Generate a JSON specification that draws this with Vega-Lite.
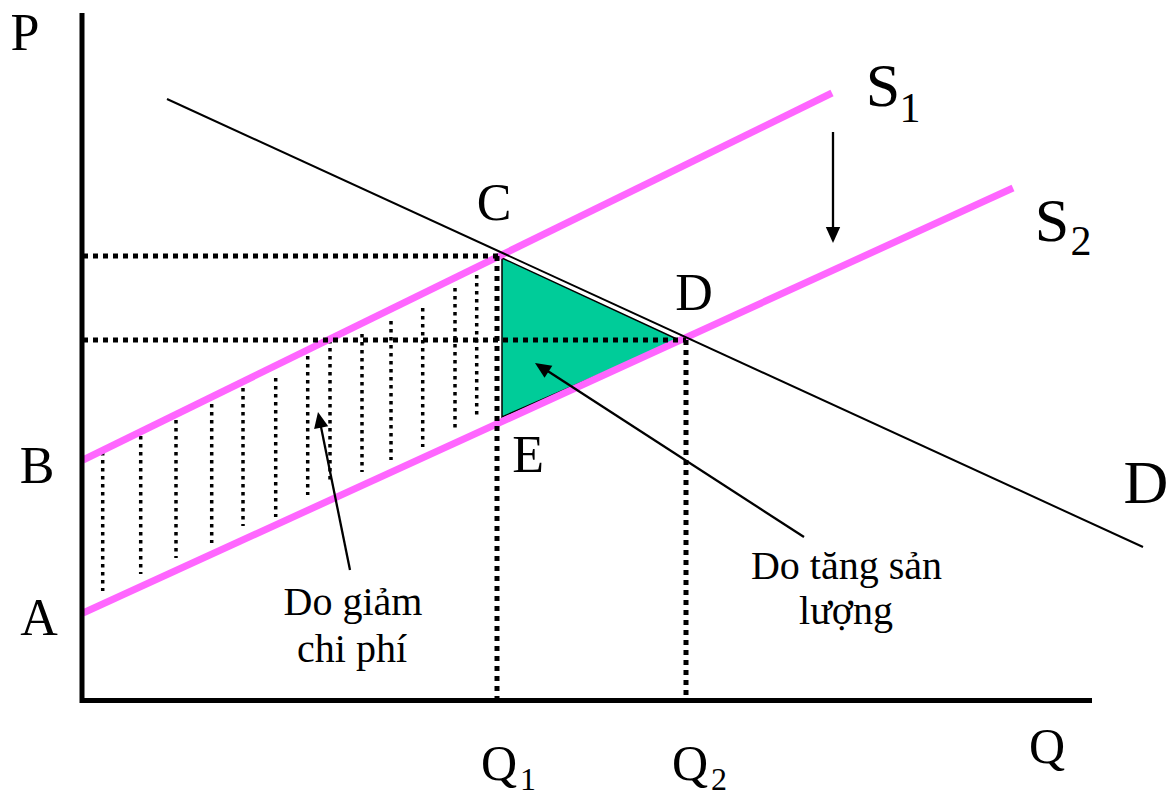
{
  "$schema": "https://vega.github.io/schema/vega-lite/v6.json",
  "width": 1169,
  "height": 798,
  "autosize": {"type": "none"},
  "padding": 0,
  "background": "white",
  "config": {"view": {"stroke": null}},
  "datasets": {
    "hatch": [
      {"q": 1.97, "p1": 24.8, "p2": 10.9},
      {"q": 5.77, "p1": 26.4, "p2": 12.6},
      {"q": 9.3, "p1": 28.0, "p2": 14.2},
      {"q": 12.87, "p1": 29.6, "p2": 15.7},
      {"q": 16.0, "p1": 31.2, "p2": 17.4},
      {"q": 19.27, "p1": 32.2, "p2": 18.3},
      {"q": 22.47, "p1": 34.4, "p2": 20.5},
      {"q": 24.7, "p1": 36.0, "p2": 21.8},
      {"q": 27.9, "p1": 36.6, "p2": 22.8},
      {"q": 30.8, "p1": 37.9, "p2": 24.0},
      {"q": 33.97, "p1": 39.2, "p2": 25.3},
      {"q": 37.2, "p1": 41.2, "p2": 27.2},
      {"q": 39.37, "p1": 42.5, "p2": 28.5}
    ],
    "triangle": [
      {"q": 41.9, "top": 44.2, "bot": 28.3},
      {"q": 59.6, "top": 36.0, "bot": 36.0}
    ],
    "supply": [
      {"name": "S1", "q1": 0, "p1": 24.0, "q2": 74.9, "p2": 60.7},
      {"name": "S2", "q1": 0, "p1": 8.7, "q2": 93.0, "p2": 51.2}
    ],
    "guides": [
      {"q1": 0, "q2": 41.7, "p1": 44.4, "p2": 44.4},
      {"q1": 0, "q2": 60.3, "p1": 36.0, "p2": 36.0},
      {"q1": 41.4, "q2": 41.4, "p1": 44.4, "p2": 0},
      {"q1": 60.3, "q2": 60.3, "p1": 36.0, "p2": 0}
    ],
    "demand": [
      {"name": "D", "q1": 8.4, "p1": 60.1, "q2": 106.0, "p2": 15.3}
    ],
    "axes": [
      {"q1": -0.1, "p1": -0.3, "q2": -0.1, "p2": 68.7},
      {"q1": -0.3, "p1": -0.05, "q2": 100.9, "p2": -0.05}
    ],
    "arrows": [
      {"q1": 26.7, "p1": 13.0, "q2": 23.7, "p2": 27.8},
      {"q1": 72.1, "p1": 16.3, "q2": 46.0, "p2": 33.2},
      {"q1": 75.0, "p1": 56.8, "q2": 75.0, "p2": 46.7}
    ],
    "heads": [
      {"q": 23.5, "p": 28.8, "ang": 348.6},
      {"q": 45.2, "p": 33.7, "ang": 302.9},
      {"q": 75.0, "p": 45.7, "ang": 180}
    ],
    "labels": [
      {"t": "P", "q": -5.8, "p": 65.0, "kind": "label"},
      {"t": "B", "q": -4.6, "p": 21.7, "kind": "label"},
      {"t": "A", "q": -4.4, "p": 6.5, "kind": "label"},
      {"t": "C", "q": 41.1, "p": 48.0, "kind": "label"},
      {"t": "D", "q": 61.1, "p": 39.0, "kind": "label"},
      {"t": "E", "q": 44.5, "p": 22.8, "kind": "label"},
      {"t": "Q", "q": 96.4, "p": -6.3, "kind": "qlabel"},
      {"t": "Q", "q": 41.6, "p": -8.0, "kind": "qlabel"},
      {"t": "Q", "q": 60.7, "p": -8.0, "kind": "qlabel"},
      {"t": "1", "q": 44.5, "p": -9.0, "kind": "qsub"},
      {"t": "2", "q": 63.6, "p": -9.0, "kind": "qsub"},
      {"t": "D", "q": 106.3, "p": 19.7, "kind": "big"},
      {"t": "S", "q": 80.0, "p": 59.4, "kind": "big"},
      {"t": "S", "q": 96.9, "p": 45.9, "kind": "big"},
      {"t": "1", "q": 82.7, "p": 57.8, "kind": "ssub"},
      {"t": "2", "q": 99.8, "p": 44.5, "kind": "ssub"},
      {"t": "Do giảm", "q": 27.0, "p": 8.5, "kind": "note"},
      {"t": "chi phí", "q": 26.9, "p": 3.8, "kind": "note"},
      {"t": "Do tăng sản", "q": 76.35, "p": 12.1, "kind": "note"},
      {"t": "lượng", "q": 76.3, "p": 7.6, "kind": "note"}
    ]
  },
  "layer": [
    {
      "data": {"name": "hatch"},
      "mark": {"type": "rule", "stroke": "black", "strokeWidth": 3.5, "strokeDash": [3.5, 4.5]},
      "encoding": {
        "x": {"field": "q", "type": "quantitative", "scale": {"domain": [-8.3, 108.6], "nice": false, "zero": false}, "axis": null},
        "y": {"field": "p1", "type": "quantitative", "scale": {"domain": [-9.8, 70], "nice": false, "zero": false}, "axis": null},
        "y2": {"field": "p2"}
      }
    },
    {
      "data": {"name": "triangle"},
      "mark": {"type": "area", "fill": "#00CC99", "fillOpacity": 1, "stroke": "black", "strokeWidth": 1.5},
      "encoding": {
        "x": {"field": "q", "type": "quantitative", "scale": {"domain": [-8.3, 108.6], "nice": false, "zero": false}, "axis": null},
        "y": {"field": "top", "type": "quantitative", "scale": {"domain": [-9.8, 70], "nice": false, "zero": false}, "axis": null},
        "y2": {"field": "bot"}
      }
    },
    {
      "data": {"name": "supply"},
      "mark": {"type": "rule", "stroke": "#FF66FF", "strokeWidth": 7, "strokeCap": "butt"},
      "encoding": {
        "x": {"field": "q1", "type": "quantitative", "scale": {"domain": [-8.3, 108.6], "nice": false, "zero": false}, "axis": null},
        "y": {"field": "p1", "type": "quantitative", "scale": {"domain": [-9.8, 70], "nice": false, "zero": false}, "axis": null},
        "x2": {"field": "q2"},
        "y2": {"field": "p2"}
      }
    },
    {
      "data": {"name": "guides"},
      "mark": {"type": "rule", "stroke": "black", "strokeWidth": 5, "strokeDash": [5, 5]},
      "encoding": {
        "x": {"field": "q1", "type": "quantitative", "scale": {"domain": [-8.3, 108.6], "nice": false, "zero": false}, "axis": null},
        "y": {"field": "p1", "type": "quantitative", "scale": {"domain": [-9.8, 70], "nice": false, "zero": false}, "axis": null},
        "x2": {"field": "q2"},
        "y2": {"field": "p2"}
      }
    },
    {
      "data": {"name": "demand"},
      "mark": {"type": "rule", "stroke": "black", "strokeWidth": 2},
      "encoding": {
        "x": {"field": "q1", "type": "quantitative", "scale": {"domain": [-8.3, 108.6], "nice": false, "zero": false}, "axis": null},
        "y": {"field": "p1", "type": "quantitative", "scale": {"domain": [-9.8, 70], "nice": false, "zero": false}, "axis": null},
        "x2": {"field": "q2"},
        "y2": {"field": "p2"}
      }
    },
    {
      "data": {"name": "axes"},
      "mark": {"type": "rule", "stroke": "black", "strokeWidth": 5},
      "encoding": {
        "x": {"field": "q1", "type": "quantitative", "scale": {"domain": [-8.3, 108.6], "nice": false, "zero": false}, "axis": null},
        "y": {"field": "p1", "type": "quantitative", "scale": {"domain": [-9.8, 70], "nice": false, "zero": false}, "axis": null},
        "x2": {"field": "q2"},
        "y2": {"field": "p2"}
      }
    },
    {
      "data": {"name": "arrows"},
      "mark": {"type": "rule", "stroke": "black", "strokeWidth": 2.3},
      "encoding": {
        "x": {"field": "q1", "type": "quantitative", "scale": {"domain": [-8.3, 108.6], "nice": false, "zero": false}, "axis": null},
        "y": {"field": "p1", "type": "quantitative", "scale": {"domain": [-9.8, 70], "nice": false, "zero": false}, "axis": null},
        "x2": {"field": "q2"},
        "y2": {"field": "p2"}
      }
    },
    {
      "data": {"name": "heads"},
      "mark": {"type": "point", "shape": "M0,0L-0.45,1L0.45,1Z", "size": 1024, "filled": true, "fill": "black", "fillOpacity": 1, "strokeWidth": 0},
      "encoding": {
        "x": {"field": "q", "type": "quantitative", "scale": {"domain": [-8.3, 108.6], "nice": false, "zero": false}, "axis": null},
        "y": {"field": "p", "type": "quantitative", "scale": {"domain": [-9.8, 70], "nice": false, "zero": false}, "axis": null},
        "angle": {"field": "ang", "type": "quantitative", "scale": null}
      }
    },
    {
      "data": {"name": "labels"},
      "transform": [{"filter": "datum.kind === 'label'"}],
      "mark": {"type": "text", "font": "Liberation Serif", "fontSize": 52, "align": "center", "baseline": "alphabetic", "color": "black"},
      "encoding": {
        "x": {"field": "q", "type": "quantitative", "scale": {"domain": [-8.3, 108.6], "nice": false, "zero": false}, "axis": null},
        "y": {"field": "p", "type": "quantitative", "scale": {"domain": [-9.8, 70], "nice": false, "zero": false}, "axis": null},
        "text": {"field": "t"}
      }
    },
    {
      "data": {"name": "labels"},
      "transform": [{"filter": "datum.kind === 'qlabel'"}],
      "mark": {"type": "text", "font": "Liberation Serif", "fontSize": 50, "align": "center", "baseline": "alphabetic", "color": "black"},
      "encoding": {
        "x": {"field": "q", "type": "quantitative", "scale": {"domain": [-8.3, 108.6], "nice": false, "zero": false}, "axis": null},
        "y": {"field": "p", "type": "quantitative", "scale": {"domain": [-9.8, 70], "nice": false, "zero": false}, "axis": null},
        "text": {"field": "t"}
      }
    },
    {
      "data": {"name": "labels"},
      "transform": [{"filter": "datum.kind === 'qsub'"}],
      "mark": {"type": "text", "font": "Liberation Serif", "fontSize": 32, "align": "center", "baseline": "alphabetic", "color": "black"},
      "encoding": {
        "x": {"field": "q", "type": "quantitative", "scale": {"domain": [-8.3, 108.6], "nice": false, "zero": false}, "axis": null},
        "y": {"field": "p", "type": "quantitative", "scale": {"domain": [-9.8, 70], "nice": false, "zero": false}, "axis": null},
        "text": {"field": "t"}
      }
    },
    {
      "data": {"name": "labels"},
      "transform": [{"filter": "datum.kind === 'big'"}],
      "mark": {"type": "text", "font": "Liberation Serif", "fontSize": 62, "align": "center", "baseline": "alphabetic", "color": "black"},
      "encoding": {
        "x": {"field": "q", "type": "quantitative", "scale": {"domain": [-8.3, 108.6], "nice": false, "zero": false}, "axis": null},
        "y": {"field": "p", "type": "quantitative", "scale": {"domain": [-9.8, 70], "nice": false, "zero": false}, "axis": null},
        "text": {"field": "t"}
      }
    },
    {
      "data": {"name": "labels"},
      "transform": [{"filter": "datum.kind === 'ssub'"}],
      "mark": {"type": "text", "font": "Liberation Serif", "fontSize": 42, "align": "center", "baseline": "alphabetic", "color": "black"},
      "encoding": {
        "x": {"field": "q", "type": "quantitative", "scale": {"domain": [-8.3, 108.6], "nice": false, "zero": false}, "axis": null},
        "y": {"field": "p", "type": "quantitative", "scale": {"domain": [-9.8, 70], "nice": false, "zero": false}, "axis": null},
        "text": {"field": "t"}
      }
    },
    {
      "data": {"name": "labels"},
      "transform": [{"filter": "datum.kind === 'note'"}],
      "mark": {"type": "text", "font": "Liberation Serif", "fontSize": 40, "align": "center", "baseline": "alphabetic", "color": "black"},
      "encoding": {
        "x": {"field": "q", "type": "quantitative", "scale": {"domain": [-8.3, 108.6], "nice": false, "zero": false}, "axis": null},
        "y": {"field": "p", "type": "quantitative", "scale": {"domain": [-9.8, 70], "nice": false, "zero": false}, "axis": null},
        "text": {"field": "t"}
      }
    }
  ]
}
